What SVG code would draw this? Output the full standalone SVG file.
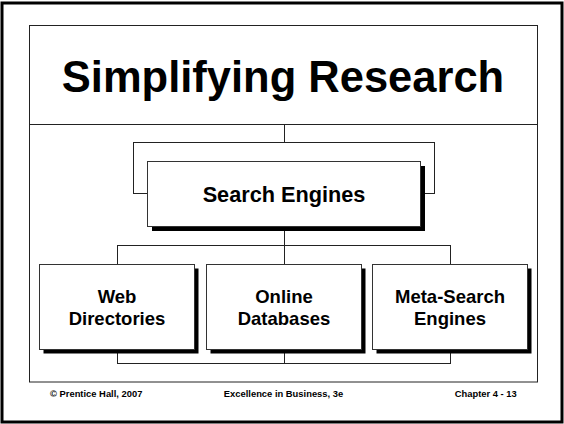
<svg xmlns="http://www.w3.org/2000/svg" width="564" height="424" viewBox="0 0 564 424">
<style>
text{font-family:"Liberation Sans",Arial,sans-serif;font-weight:bold;fill:#000}
.ln{fill:none;stroke:#222;stroke-width:1}
.box{fill:#fff;stroke:#333;stroke-width:1}
.sh{fill:#000}
.lbl{font-size:18.5px;text-anchor:middle}
.ft{font-size:9.4px}
</style>
<rect x="0" y="0" width="564" height="424" fill="#fff"/>
<rect x="2" y="3" width="560" height="419" fill="none" stroke="#000" stroke-width="3"/>
<rect x="29.5" y="25.5" width="508" height="356.5" fill="none" stroke="#222" stroke-width="1"/>
<line x1="29.5" y1="124.5" x2="537.5" y2="124.5" stroke="#222" stroke-width="1"/>
<text x="283" y="91.5" font-size="43.5" text-anchor="middle">Simplifying Research</text>
<g id="connectors">
<line class="ln" x1="284.5" y1="124.5" x2="284.5" y2="142.5"/>
<rect class="ln" x="133.5" y="142.5" width="301" height="51"/>
<line class="ln" x1="284.5" y1="227" x2="284.5" y2="363.5"/>
<rect class="ln" x="117.5" y="245.5" width="333" height="118"/>
</g>
<g id="search-engines">
<rect class="sh" x="152" y="166" width="273" height="65"/>
<rect class="box" x="147.5" y="161.5" width="273" height="65"/>
<text x="284" y="202.3" font-size="21.7" text-anchor="middle">Search Engines</text>
</g>
<g id="web-directories">
<rect class="sh" x="43.5" y="268.5" width="155" height="85"/>
<rect class="box" x="39.5" y="264.5" width="155" height="85"/>
<text class="lbl" x="117" y="302.7">Web</text>
<text class="lbl" x="117" y="325">Directories</text>
</g>
<g id="online-databases">
<rect class="sh" x="210.5" y="268.5" width="155" height="85"/>
<rect class="box" x="206.5" y="264.5" width="155" height="85"/>
<text class="lbl" x="284" y="302.7">Online</text>
<text class="lbl" x="284" y="325">Databases</text>
</g>
<g id="meta-search-engines">
<rect class="sh" x="376.5" y="268.5" width="155" height="85"/>
<rect class="box" x="372.5" y="264.5" width="155" height="85"/>
<text class="lbl" x="450" y="302.7">Meta-Search</text>
<text class="lbl" x="450" y="325">Engines</text>
</g>
<text class="ft" x="50" y="397">© Prentice Hall, 2007</text>
<text class="ft" x="283.5" y="397" text-anchor="middle">Excellence in Business, 3e</text>
<text class="ft" x="516.7" y="397" text-anchor="end">Chapter 4 - 13</text>
</svg>
